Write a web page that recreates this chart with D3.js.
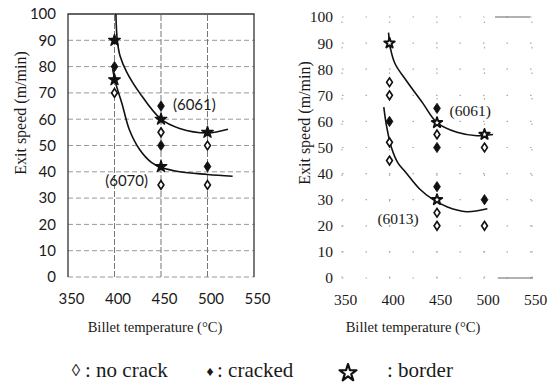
<!DOCTYPE html>
<html>
<head>
<meta charset="utf-8">
<script src="https://cdn.jsdelivr.net/npm/d3@7"></script>
<style>
  html, body { margin: 0; padding: 0; background: #fff; }
  svg { display: block; }
  text { fill: #1a1a1a; }
</style>
</head>
<body>
<svg id="chart" width="556" height="387"></svg>
<script>
// ---- data: [billet temperature (°C), exit speed (m/min)] ----
const xTicks = [350, 400, 450, 500, 550];
const yTicks = [0, 10, 20, 30, 40, 50, 60, 70, 80, 90, 100];

// panel A: alloys 6061 and 6070
const leftNoCrack = [[400, 70], [450, 55], [450, 35], [500, 50], [500, 35]];
const leftCracked = [[400, 80], [450, 65], [450, 50], [500, 42]];
const leftBorder  = [[400, 90], [400, 75], [450, 60], [450, 42], [500, 55]];
const leftCurve6061 = [[401.5, 100], [403, 90], [406, 84], [413, 78], [427, 70], [450, 60], [470, 56.5], [500, 54.8], [522, 56.2]];
const leftCurve6070 = [[398, 79], [401, 74], [408, 66], [416, 56], [427, 48.5], [440, 43.5], [450, 41.7], [470, 40], [500, 39], [527, 38.3]];

// panel B: alloys 6061 and 6013
const rightNoCrack = [[400, 75], [400, 70], [400, 52], [400, 45], [450, 55], [450, 25], [450, 20], [500, 50], [500, 20]];
const rightCracked = [[400, 60], [450, 65], [450, 50], [450, 35], [500, 30]];
const rightBorder  = [[400, 90], [450, 59.5], [450, 30], [500, 55]];
const rightCurve6061 = [[399, 94], [401, 88], [406, 82], [418, 75.5], [435, 67], [450, 59.5], [471, 55.8], [492, 54.5], [509, 55]];
const rightCurve6013 = [[394, 65.5], [397, 58], [402, 50], [409, 44], [417, 40.5], [432, 34], [446, 30], [461, 27.2], [481, 25.4], [503, 26.5]];
// short rule segments at the right edge of panel B
const rightEdgeMarks = [[[511, 100], [548, 100]], [[514, 0], [551, 0]]];

const xTitle = "Billet temperature (°C)";
const yTitle = "Exit speed (m/min)";
const legendItems = [
  { glyph: "\u25CA", label: ": no crack" },
  { glyph: "\u2666", label: ": cracked" },
  { glyph: "star",   label: ": border" }
];

const svg = d3.select("#chart");
const serif = "'Liberation Serif', 'Times New Roman', serif";
const sans = "Lato, 'Open Sans', sans-serif";

function diamond(g, pts, x, y, filled) {
  g.selectAll(null).data(pts).enter().append("path")
    .attr("d", d3.symbol().type(d3.symbolDiamond).size(filled ? 30 : 22))
    .attr("transform", d => `translate(${x(d[0])},${y(d[1])}) scale(1.15,1)`)
    .attr("fill", filled ? "#111" : "#fff")
    .attr("stroke", "#111")
    .attr("stroke-width", filled ? 0.8 : 1.5);
}

function stars(g, pts, x, y, filled) {
  g.selectAll(null).data(pts).enter().append("path")
    .attr("d", d3.symbol().type(d3.symbolStar).size(filled ? 42 : 34))
    .attr("transform", d => `translate(${x(d[0])},${y(d[1])})`)
    .attr("fill", filled ? "#111" : "#fff")
    .attr("stroke", "#111")
    .attr("stroke-width", filled ? 1.3 : 1.9)
    .attr("stroke-linejoin", "round");
}

function curve(g, pts, x, y) {
  g.append("path")
    .attr("d", d3.line().x(d => x(d[0])).y(d => y(d[1])).curve(d3.curveCatmullRom.alpha(0.5))(pts))
    .attr("fill", "none").attr("stroke", "#111").attr("stroke-width", 1.6);
}

// ================= panel A =================
{
  const x = d3.scaleLinear().domain([350, 550]).range([68, 254]);
  const y = d3.scaleLinear().domain([0, 100]).range([277, 14]);
  const g = svg.append("g");

  // dashed grid
  g.selectAll(null).data(yTicks.filter(v => v < 100)).enter().append("line")
    .attr("x1", x(350)).attr("x2", x(550)).attr("y1", d => y(d)).attr("y2", d => y(d))
    .attr("stroke", "#999").attr("stroke-width", 1).attr("stroke-dasharray", "5,3");
  g.selectAll(null).data(xTicks.slice(1, 4)).enter().append("line")
    .attr("x1", d => x(d)).attr("x2", d => x(d)).attr("y1", y(0)).attr("y2", y(100))
    .attr("stroke", "#777").attr("stroke-width", 1).attr("stroke-dasharray", "6,2");
  // frame: left, top, right
  g.append("path")
    .attr("d", `M${x(350)},${y(0)}V${y(100)}H${x(550)}V${y(0)}`)
    .attr("fill", "none").attr("stroke", "#333").attr("stroke-width", 1.3);

  // axes labels
  const yAxis = d3.axisLeft(y).tickValues(yTicks).tickSize(0).tickPadding(12);
  g.append("g").attr("transform", `translate(${x(350)},0)`).call(yAxis)
    .call(a => a.select(".domain").remove())
    .selectAll("text").attr("font-family", sans).attr("font-size", 15).attr("fill", "#222");
  const xAxis = d3.axisBottom(x).tickValues(xTicks).tickSize(0).tickPadding(16);
  g.append("g").attr("transform", `translate(3,${y(0)})`).call(xAxis)
    .call(a => a.select(".domain").remove())
    .selectAll("text").attr("font-family", sans).attr("font-size", 15).attr("fill", "#222");

  curve(g, leftCurve6061, x, y);
  curve(g, leftCurve6070, x, y);
  diamond(g, leftNoCrack, x, y, false);
  diamond(g, leftCracked, x, y, true);
  stars(g, leftBorder, x, y, true);

  g.append("text").attr("x", x(445) + 38).attr("y", y(63.5)).attr("text-anchor", "middle")
    .attr("font-family", sans).attr("font-size", 15).text("(6061)");
  g.append("text").attr("x", x(413)).attr("y", y(34.5)).attr("text-anchor", "middle")
    .attr("font-family", sans).attr("font-size", 15).text("(6070)");

  g.append("text").attr("transform", `translate(26,113) rotate(-90)`).attr("text-anchor", "middle")
    .attr("font-family", serif).attr("font-size", 16).text(yTitle);
  g.append("text").attr("x", 155).attr("y", 332).attr("text-anchor", "middle")
    .attr("font-family", serif).attr("font-size", 14.6).text(xTitle);
}

// ================= panel B =================
{
  const x = d3.scaleLinear().domain([350, 550]).range([342, 532]);
  const y = d3.scaleLinear().domain([0, 100]).range([278, 17]);
  const g = svg.append("g");

  // dotted grid
  g.selectAll(null).data(yTicks).enter().append("line")
    .attr("x1", x(350)).attr("x2", x(550)).attr("y1", d => y(d)).attr("y2", d => y(d))
    .attr("stroke", "#aaa").attr("stroke-width", 1.2).attr("stroke-dasharray", "1.5,22");
  g.selectAll(null).data(xTicks).enter().append("line")
    .attr("x1", d => x(d)).attr("x2", d => x(d)).attr("y1", y(0)).attr("y2", y(100))
    .attr("stroke", "#aaa").attr("stroke-width", 1.2).attr("stroke-dasharray", "1.5,24");
  g.selectAll(null).data(rightEdgeMarks).enter().append("line")
    .attr("x1", d => x(d[0][0])).attr("x2", d => x(d[1][0]))
    .attr("y1", d => y(d[0][1])).attr("y2", d => y(d[1][1]))
    .attr("stroke", "#666").attr("stroke-width", 1.2);

  const yAxis = d3.axisLeft(y).tickValues(yTicks).tickSize(0).tickPadding(9);
  g.append("g").attr("transform", `translate(${x(350)},0)`).call(yAxis)
    .call(a => a.select(".domain").remove())
    .selectAll("text").attr("font-family", serif).attr("font-size", 15.5).attr("fill", "#222");
  const xAxis = d3.axisBottom(x).tickValues(xTicks).tickSize(0).tickPadding(16);
  g.append("g").attr("transform", `translate(3,${y(0)})`).call(xAxis)
    .call(a => a.select(".domain").remove())
    .selectAll("text").attr("font-family", serif).attr("font-size", 15.5).attr("fill", "#222");

  curve(g, rightCurve6061, x, y);
  curve(g, rightCurve6013, x, y);
  diamond(g, rightNoCrack, x, y, false);
  diamond(g, rightCracked, x, y, true);
  stars(g, rightBorder, x, y, false);

  g.append("text").attr("x", x(485)).attr("y", y(62)).attr("text-anchor", "middle")
    .attr("font-family", serif).attr("font-size", 15.5).text("(6061)");
  g.append("text").attr("x", x(409)).attr("y", y(20.5)).attr("text-anchor", "middle")
    .attr("font-family", serif).attr("font-size", 15.5).text("(6013)");

  g.append("text").attr("transform", `translate(310,123) rotate(-90)`).attr("text-anchor", "middle")
    .attr("font-family", serif).attr("font-size", 16).text(yTitle);
  g.append("text").attr("x", 413).attr("y", 332).attr("text-anchor", "middle")
    .attr("font-family", serif).attr("font-size", 14.6).text(xTitle);
}

// ================= legend =================
{
  const lg = svg.append("g").attr("font-family", serif).attr("font-size", 21);
  const glyphX = [76, 210, 348];
  const labelX = [85, 217, 387];
  legendItems.forEach((it, i) => {
    if (it.glyph === "star") {
      lg.append("path")
        .attr("d", d3.symbol().type(d3.symbolStar).size(90))
        .attr("transform", `translate(${glyphX[i]},373)`)
        .attr("fill", "#fff").attr("stroke", "#111").attr("stroke-width", 2.2)
        .attr("stroke-linejoin", "round");
    } else {
      lg.append("text").attr("x", glyphX[i]).attr("y", 376).attr("text-anchor", "middle")
        .attr("font-size", i === 0 ? 17 : 14).text(it.glyph);
    }
    lg.append("text").attr("x", labelX[i]).attr("y", 377).text(it.label);
  });
}
</script>
</body>
</html>
